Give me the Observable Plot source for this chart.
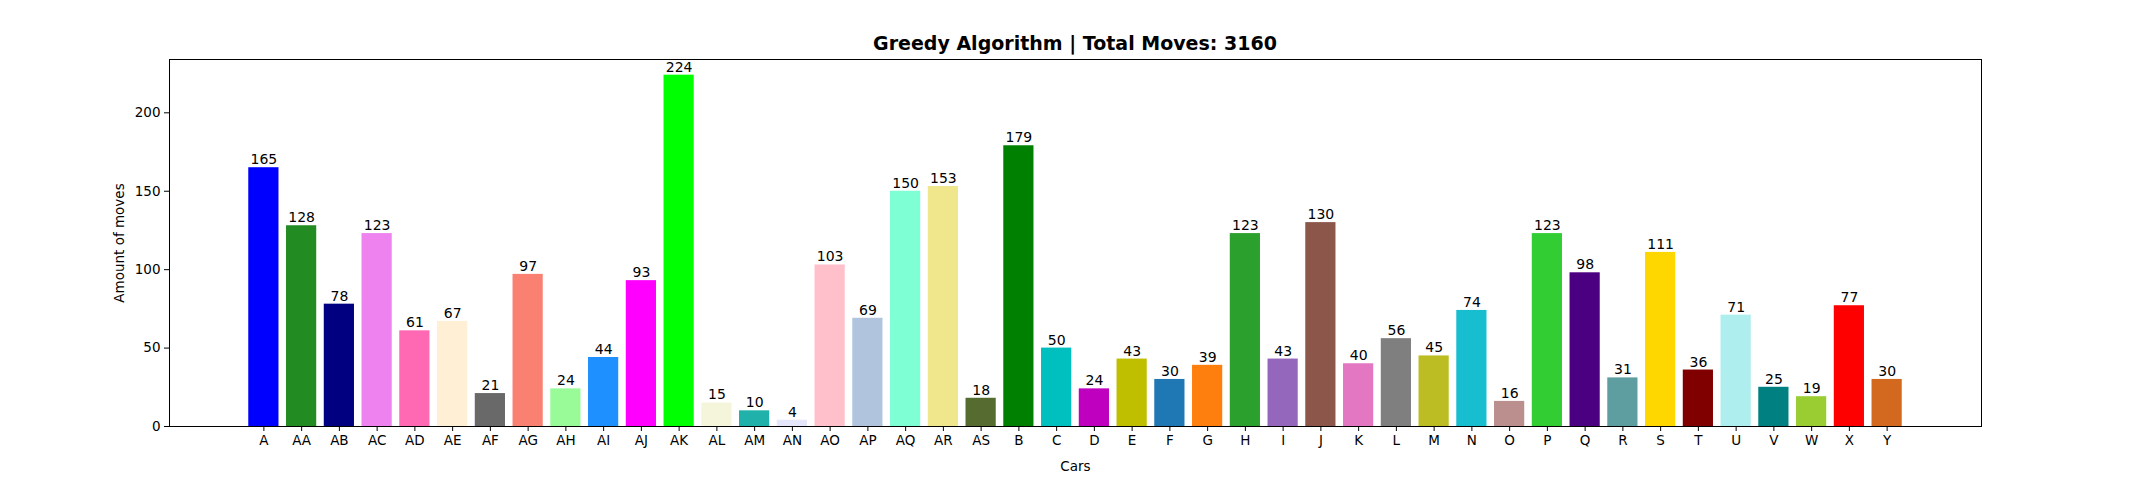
<!DOCTYPE html>
<html><head><meta charset="utf-8">
<script src="https://cdn.jsdelivr.net/npm/d3@7"></script>
<script src="https://cdn.jsdelivr.net/npm/@observablehq/plot@0.6"></script>
<style>body{margin:0;background:#fff;font-family:"DejaVu Sans",sans-serif}
#t{height:58px;line-height:86px;text-align:center;font-weight:bold;font-size:19px;width:2150px}</style>
</head><body><div id="t">Greedy Algorithm | Total Moves: 3160</div><div id="c"></div>
<script>
const cars=["A","AA","AB","AC","AD","AE","AF","AG","AH","AI","AJ","AK","AL","AM","AN","AO","AP","AQ","AR","AS","B","C","D","E","F","G","H","I","J","K","L","M","N","O","P","Q","R","S","T","U","V","W","X","Y"];
const moves=[165,128,78,123,61,67,21,97,24,44,93,224,15,10,4,103,69,150,153,18,179,50,24,43,30,39,123,43,130,40,56,45,74,16,123,98,31,111,36,71,25,19,77,30];
const colors=["blue","forestgreen","navy","violet","hotpink","papayawhip","dimgray","salmon","palegreen","dodgerblue","magenta","lime","beige","lightseagreen","lavender","pink","lightsteelblue","aquamarine","khaki","darkolivegreen","green","#00bfbf","#bf00bf","#bfbf00","#1f77b4","#ff7f0e","#2ca02c","#9467bd","#8c564b","#e377c2","#7f7f7f","#bcbd22","#17becf","rosybrown","limegreen","indigo","cadetblue","gold","maroon","paleturquoise","teal","yellowgreen","red","chocolate"];
const data=cars.map((c,i)=>({car:c,v:moves[i],col:colors[i]}));
const p=Plot.plot({width:2150,height:422,marginLeft:169,marginRight:169,marginTop:1,marginBottom:54,
style:{fontFamily:"DejaVu Sans",fontSize:"13.5px",color:"#000"},
color:{type:"identity"},
x:{domain:cars,padding:0.2,paddingOuter:2.1,label:"Cars",labelAnchor:"center",labelOffset:44,tickSize:5},
y:{domain:[0,234],ticks:[0,50,100,150,200],label:"Amount of moves",labelArrow:"none",labelAnchor:"center",labelOffset:55,tickSize:5},
marks:[
Plot.barY(data,{x:"car",y:"v",fill:"col"}),
Plot.text(data,{x:"car",y:"v",text:d=>String(d.v),dy:-8,fontSize:14}),
Plot.frame({stroke:"#000"})
]});
document.getElementById("c").appendChild(p);
</script></body></html>
